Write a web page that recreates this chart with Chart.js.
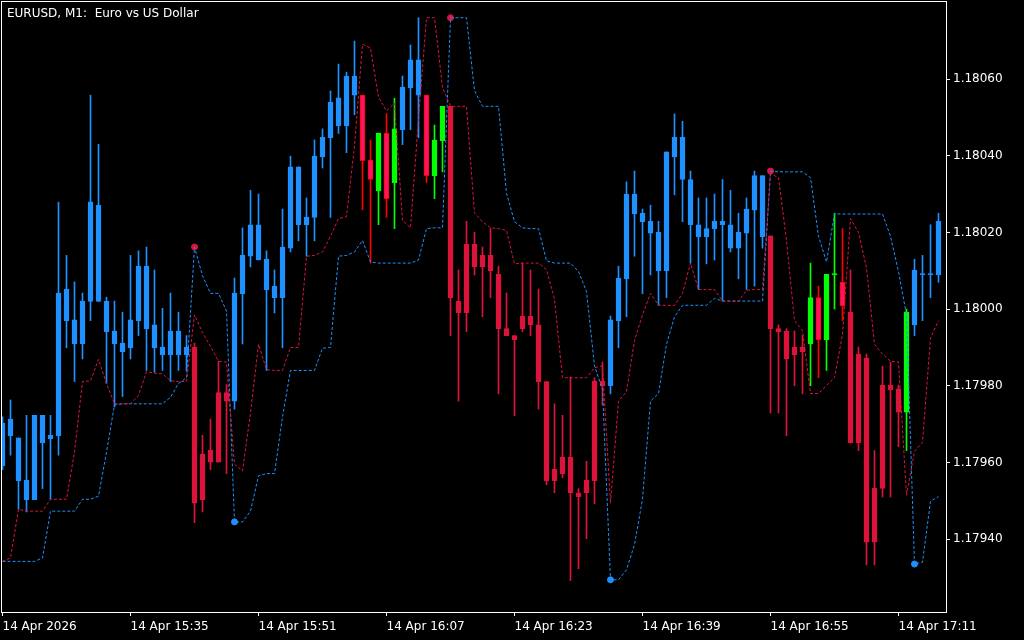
<!DOCTYPE html>
<html lang="en">
<head>
<meta charset="UTF-8">
<title>EURUSD, M1</title>
<script src="https://cdn.jsdelivr.net/npm/chart.js@4"></script>
<style>
  html, body { margin: 0; padding: 0; background: #000; }
  #wrap { position: relative; width: 1024px; height: 640px; }
  #chart { background: #000; }
  #title { position: absolute; left: 7px; top: 6px; color: #fff; font: 12px/14px "DejaVu Sans", sans-serif; white-space: pre; }
</style>
</head>
<body>
<div id="wrap">
  <canvas id="chart" width="1024" height="640"></canvas>
  <div id="title">EURUSD, M1:  Euro vs US Dollar</div>
</div>
<script>
// one candle per minute, 15:19 .. 17:16
const open = [
  1.179591, 1.179670, 1.179552, 1.179503, 1.179503, 1.179651, 1.179662, 1.179670, 1.179970, 1.179909,
  1.179909, 1.180020, 1.180020, 1.179941, 1.179909, 1.179889, 1.179899, 1.179970, 1.179949, 1.179899,
  1.179881, 1.179881, 1.179881, 1.179881, 1.179901, 1.179622, 1.179632, 1.179782, 1.179782, 1.179760,
  1.180040, 1.180138, 1.180128, 1.180050, 1.180030, 1.180030, 1.180159, 1.180220, 1.180220, 1.180239,
  1.180397, 1.180447, 1.180478, 1.180478, 1.180558, 1.180558, 1.180389, 1.180308, 1.180459, 1.180330,
  1.180468, 1.180577, 1.180558, 1.180558, 1.180348, 1.180439, 1.180529, 1.180021, 1.180169, 1.180169,
  1.180140, 1.180140, 1.180091, 1.179949, 1.179931, 1.179982, 1.179982, 1.179959, 1.179811, 1.179583,
  1.179614, 1.179614, 1.179521, 1.179554, 1.179812, 1.179812, 1.179800, 1.179970, 1.180079, 1.180248,
  1.180228, 1.180198, 1.180100, 1.180100, 1.180397, 1.180338, 1.180220, 1.180189, 1.180189, 1.180210,
  1.180220, 1.180159, 1.180159, 1.180198, 1.180258, 1.180189, 1.180191, 1.179949, 1.179943, 1.179901,
  1.179901, 1.179909, 1.180030, 1.179920, 1.180090, 1.180070, 1.179992, 1.179883, 1.179872, 1.179533,
  1.179802, 1.179802, 1.179792, 1.179731, 1.179959, 1.180090, 1.180090, 1.180089
];
const high = [
  1.179719, 1.179763, 1.179664, 1.179723, 1.179723, 1.179723, 1.179723, 1.180279, 1.180140, 1.180071,
  1.180042, 1.180558, 1.180430, 1.180031, 1.180021, 1.179992, 1.180140, 1.180152, 1.180162, 1.180102,
  1.180002, 1.180042, 1.179992, 1.179931, 1.179911, 1.179671, 1.179713, 1.179864, 1.179803, 1.180081,
  1.180212, 1.180310, 1.180300, 1.180152, 1.180102, 1.180261, 1.180399, 1.180371, 1.180290, 1.180441,
  1.180470, 1.180569, 1.180639, 1.180618, 1.180699, 1.180558, 1.180441, 1.180459, 1.180510, 1.180550,
  1.180608, 1.180689, 1.180760, 1.180558, 1.180480, 1.180529, 1.180529, 1.180102, 1.180229, 1.180200,
  1.180162, 1.180210, 1.180112, 1.180042, 1.179931, 1.180120, 1.180102, 1.180052, 1.179811, 1.179753,
  1.179723, 1.179823, 1.179532, 1.179603, 1.179821, 1.179862, 1.179982, 1.180112, 1.180332, 1.180360,
  1.180261, 1.180271, 1.180229, 1.180410, 1.180509, 1.180490, 1.180360, 1.180290, 1.180290, 1.180300,
  1.180338, 1.180310, 1.180250, 1.180290, 1.180360, 1.180348, 1.180191, 1.179959, 1.179949, 1.179943,
  1.179931, 1.180120, 1.180060, 1.180091, 1.180250, 1.180210, 1.180102, 1.179901, 1.179883, 1.179631,
  1.179851, 1.179862, 1.179802, 1.180000, 1.180130, 1.180140, 1.180220, 1.180250
];
const low = [
  1.179581, 1.179619, 1.179478, 1.179471, 1.179503, 1.179532, 1.179504, 1.179619, 1.179899, 1.179811,
  1.179870, 1.179970, 1.180020, 1.179806, 1.179745, 1.179772, 1.179870, 1.179931, 1.179840, 1.179835,
  1.179840, 1.179811, 1.179840, 1.179840, 1.179443, 1.179471, 1.179581, 1.179601, 1.179571, 1.179739,
  1.179909, 1.180110, 1.180128, 1.179840, 1.179990, 1.179899, 1.180149, 1.180178, 1.180138, 1.180178,
  1.180368, 1.180239, 1.180458, 1.180408, 1.180507, 1.180259, 1.180120, 1.180220, 1.180239, 1.180210,
  1.180429, 1.180468, 1.180447, 1.180330, 1.180288, 1.180358, 1.179931, 1.179760, 1.179941, 1.180089,
  1.179980, 1.180030, 1.179779, 1.179931, 1.179722, 1.179941, 1.179931, 1.179739, 1.179542, 1.179521,
  1.179560, 1.179292, 1.179323, 1.179401, 1.179492, 1.179750, 1.179779, 1.179899, 1.179980, 1.180138,
  1.180040, 1.180089, 1.180010, 1.180030, 1.180298, 1.180228, 1.180120, 1.180051, 1.180118, 1.180128,
  1.180021, 1.180149, 1.180079, 1.180051, 1.180060, 1.180159, 1.179729, 1.179729, 1.179670, 1.179800,
  1.179779, 1.179800, 1.179821, 1.179840, 1.180000, 1.179970, 1.179651, 1.179631, 1.179333, 1.179333,
  1.179510, 1.179510, 1.179641, 1.179631, 1.179931, 1.179970, 1.180030, 1.180070
];
const close = [
  1.179703, 1.179713, 1.179664, 1.179554, 1.179723, 1.179723, 1.179671, 1.180042, 1.180052, 1.179972,
  1.180021, 1.180280, 1.180271, 1.180020, 1.179943, 1.179911, 1.179972, 1.180112, 1.180112, 1.179959,
  1.179901, 1.179943, 1.179943, 1.179901, 1.179494, 1.179503, 1.179601, 1.179601, 1.179760, 1.180042,
  1.180140, 1.180220, 1.180220, 1.180130, 1.180060, 1.180162, 1.180371, 1.180371, 1.180240, 1.180399,
  1.180448, 1.180540, 1.180551, 1.180608, 1.180608, 1.180387, 1.180338, 1.180459, 1.180288, 1.180470,
  1.180579, 1.180650, 1.180650, 1.180348, 1.180441, 1.180529, 1.180030, 1.179990, 1.179990, 1.180110,
  1.180110, 1.180100, 1.179949, 1.179931, 1.179920, 1.179949, 1.179959, 1.179811, 1.179552, 1.179552,
  1.179571, 1.179521, 1.179510, 1.179521, 1.179552, 1.179800, 1.179972, 1.180081, 1.180300, 1.180300,
  1.180250, 1.180229, 1.180200, 1.180410, 1.180448, 1.180448, 1.180338, 1.180220, 1.180210, 1.180229,
  1.180229, 1.180220, 1.180200, 1.180261, 1.180348, 1.180348, 1.179949, 1.179941, 1.179870, 1.179881,
  1.179889, 1.180030, 1.179920, 1.180091, 1.180090, 1.180008, 1.179651, 1.179651, 1.179392, 1.179392,
  1.179532, 1.179790, 1.179731, 1.179992, 1.180102, 1.180090, 1.180090, 1.180229
];
// candle colouring by the indicator: B up, R down, G/P bull/bear in transition
const state = ('BBBBBBBBBBBBBBBBBBBBBBBB' + 'RRRRR' + 'BBBBBBBBBBBBBBBB' + 'PPGPG' + 'BBB' + 'PGG' +
  'RRRRRRRRRRRRRRRRRRRR' + 'BBBBBBBBBBBBBBBBBBBB' + 'RRRRR' + 'GPGGP' + 'RRRRRRR' + 'G' + 'BBBB').split('');

// dotted indicator lines
const redLine = [
  1.179342, 1.179351, 1.179478, 1.179473, 1.179473, 1.179473, 1.179504, 1.179504, 1.179504, 1.179627,
  1.179811, 1.179813, 1.179869, 1.179806, 1.179753, 1.179753, 1.179753, 1.179775, 1.179837, 1.179833,
  1.179831, 1.179813, 1.179811, 1.179811, 1.179985, 1.179939, 1.179903, 1.179864, 1.179862, 1.179596,
  1.179578, 1.179729, 1.179908, 1.179842, 1.179840, 1.179840, 1.179900, 1.179900, 1.180138, 1.180140,
  1.180149, 1.180190, 1.180236, 1.180241, 1.180425, 1.180691, 1.180681, 1.180553, 1.180517, 1.180537,
  1.180231, 1.180212, 1.180497, 1.180760, 1.180760, 1.180578, 1.180529, 1.180529, 1.180529, 1.180251,
  1.180228, 1.180212, 1.180210, 1.180205, 1.180118, 1.180120, 1.180120, 1.180120, 1.180103, 1.180026,
  1.179821, 1.179821, 1.179821, 1.179821, 1.179847, 1.179852, 1.179494, 1.179760, 1.179785, 1.179918,
  1.179985, 1.180041, 1.180010, 1.180010, 1.180010, 1.180041, 1.180120, 1.180051, 1.180051, 1.180051,
  1.180021, 1.180021, 1.180021, 1.180049, 1.180051, 1.180051, 1.180353, 1.180343, 1.180179, 1.179970,
  1.179944, 1.179780, 1.179780, 1.179801, 1.179821, 1.179934, 1.180236, 1.180200, 1.180108, 1.179908,
  1.179883, 1.179864, 1.179862, 1.179514, 1.179629, 1.179652, 1.179924, 1.179970
];
const blueLine = [
  1.179342, 1.179342, 1.179342, 1.179342, 1.179342, 1.179351, 1.179473, 1.179473, 1.179473, 1.179473,
  1.179504, 1.179504, 1.179512, 1.179627, 1.179750, 1.179753, 1.179753, 1.179753, 1.179753, 1.179753,
  1.179753, 1.179770, 1.179806, 1.179821, 1.180162, 1.180087, 1.180041, 1.180041, 1.179995, 1.179445,
  1.179445, 1.179473, 1.179565, 1.179571, 1.179571, 1.179719, 1.179840, 1.179840, 1.179840, 1.179840,
  1.179898, 1.179900, 1.180138, 1.180140, 1.180149, 1.180179, 1.180123, 1.180120, 1.180120, 1.180120,
  1.180120, 1.180120, 1.180128, 1.180210, 1.180212, 1.180212, 1.180760, 1.180760, 1.180760, 1.180570,
  1.180529, 1.180529, 1.180529, 1.180302, 1.180228, 1.180212, 1.180210, 1.180210, 1.180126, 1.180120,
  1.180120, 1.180120, 1.180098, 1.180046, 1.179852, 1.179790, 1.179294, 1.179294, 1.179320, 1.179386,
  1.179504, 1.179760, 1.179780, 1.179908, 1.179980, 1.180010, 1.180010, 1.180010, 1.180010, 1.180028,
  1.180021, 1.180021, 1.180021, 1.180021, 1.180021, 1.180021, 1.180360, 1.180358, 1.180358, 1.180358,
  1.180358, 1.180343, 1.180190, 1.180123, 1.180248, 1.180248, 1.180248, 1.180248, 1.180248, 1.180248,
  1.180248, 1.180190, 1.180098, 1.179985, 1.179335, 1.179340, 1.179499, 1.179511
];
// swing markers on the blue line
const topMarkBar = [24, 56, 96];
const topMarkVal = [1.180162, 1.180760, 1.180360];
const lowMarkBar = [29, 76, 114];
const lowMarkVal = [1.179445, 1.179294, 1.179335];

const priceTicks = [1.17940, 1.17960, 1.17980, 1.18000, 1.18020, 1.18040, 1.18060];
const timeTickBars = [0, 16, 32, 48, 64, 80, 96, 112];
const timeTickLabels = ['14 Apr 2026', '14 Apr 15:35', '14 Apr 15:51', '14 Apr 16:07',
  '14 Apr 16:23', '14 Apr 16:39', '14 Apr 16:55', '14 Apr 17:11'];

const colors = {
  B: { fill: '#1E90FF', edge: '#1E90FF' },
  R: { fill: '#DC143C', edge: '#DC143C' },
  G: { fill: '#00FF00', edge: '#00FF00' },
  P: { fill: '#FF1464', edge: '#FF0000' }
};

const bars = open.map((o, i) => i);
const wickData = bars.map(i => ({ x: i, y: [low[i], high[i]] }));
const bodyData = bars.map(i => ({ x: i, y: [Math.min(open[i], close[i]), Math.max(open[i], close[i])] }));

const framePlugin = {
  id: 'frame',
  afterDraw(chart) {
    const { ctx, chartArea: a } = chart;
    ctx.save();
    ctx.strokeStyle = '#ffffff';
    ctx.lineWidth = 1;
    ctx.strokeRect(a.left - 0.5, a.top - 0.5, a.right - a.left + 1, a.bottom - a.top + 1);
    ctx.restore();
  }
};

// keep the plot box fixed: no extra room for overflowing tick labels
function noPadding(s) {
  s.paddingLeft = 0; s.paddingRight = 0; s.paddingTop = 0; s.paddingBottom = 0;
}

const font = { family: '"DejaVu Sans", sans-serif', size: 12 };

new Chart(document.getElementById('chart'), {
  type: 'bar',
  data: {
    datasets: [
      {
        type: 'line', label: 'red', order: 0,
        data: bars.map(i => ({ x: i, y: redLine[i] })),
        borderColor: '#DC143C', borderWidth: 1, borderDash: [3, 2],
        pointRadius: 0, tension: 0
      },
      {
        type: 'line', label: 'blue', order: 0,
        data: bars.map(i => ({ x: i, y: blueLine[i] })),
        borderColor: '#1E90FF', borderWidth: 1, borderDash: [3, 2],
        pointRadius: 0, tension: 0
      },
      {
        type: 'scatter', label: 'top marks', order: 0,
        data: topMarkBar.map((b, k) => ({ x: b, y: topMarkVal[k] })),
        backgroundColor: '#DC143C', borderColor: '#DC143C', pointRadius: 3
      },
      {
        type: 'scatter', label: 'low marks', order: 0,
        data: lowMarkBar.map((b, k) => ({ x: b, y: lowMarkVal[k] })),
        backgroundColor: '#1E90FF', borderColor: '#1E90FF', pointRadius: 3
      },
      {
        label: 'bodies', order: 1, grouped: false,
        data: bodyData,
        backgroundColor: state.map(s => colors[s].fill),
        borderColor: state.map(s => colors[s].edge),
        borderWidth: 1, borderSkipped: false,
        barThickness: 5, minBarLength: 1
      },
      {
        label: 'wicks', order: 2, grouped: false,
        data: wickData,
        backgroundColor: state.map(s => colors[s].edge),
        barThickness: 1
      }
    ]
  },
  options: {
    responsive: false,
    animation: false,
    events: [],
    layout: { autoPadding: false, padding: { left: 2, top: 2, right: 0, bottom: 0 } },
    plugins: { legend: { display: false }, tooltip: { enabled: false } },
    scales: {
      x: {
        type: 'linear', offset: false,
        min: -0.0625, max: 117.9375,
        afterBuildTicks: s => { s.ticks = timeTickBars.map(v => ({ value: v })); },
        afterFit: s => { s.height = 28; noPadding(s); },
        grid: { offset: false, drawOnChartArea: false, drawTicks: true, tickLength: 4, color: '#ffffff' },
        border: { display: false },
        ticks: {
          align: 'start', maxRotation: 0, autoSkip: false, padding: 4,
          color: '#ffffff', font,
          callback: v => timeTickLabels[timeTickBars.indexOf(v)]
        }
      },
      y: {
        position: 'right',
        min: 1.179210, max: 1.180801,
        afterBuildTicks: s => { s.ticks = priceTicks.map(v => ({ value: v })); },
        afterFit: s => { s.width = 78; noPadding(s); },
        grid: { drawOnChartArea: false, drawTicks: true, tickLength: 4, color: '#ffffff' },
        border: { display: false },
        ticks: {
          padding: 3, color: '#ffffff', font,
          callback: v => v.toFixed(5)
        }
      }
    }
  },
  plugins: [framePlugin]
});
</script>
</body>
</html>
